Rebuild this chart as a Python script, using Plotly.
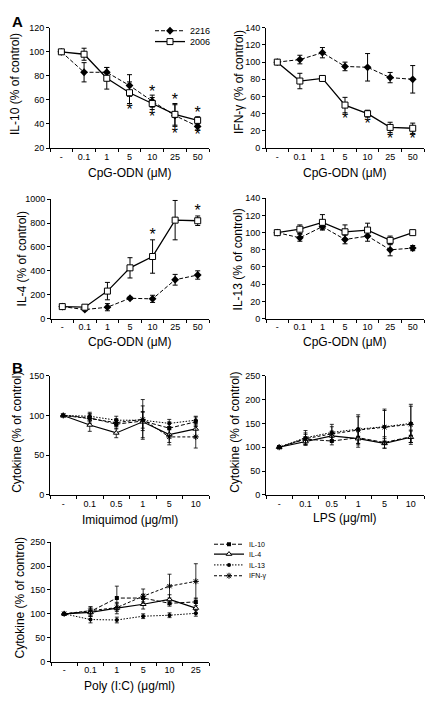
import plotly.graph_objects as go

W, H = 436, 701
OFF = 8  # browser body margin
FW, FH = W - OFF, H - OFF

# ---------------- data ----------------
cpg_labels = ["-", "0.1", "1", "5", "10", "25", "50"]
imiq_labels = ["-", "0.1", "0.5", "1", "5", "10"]
lps_labels = ["-", "0.1", "0.5", "1", "5", "10"]
polyic_labels = ["-", "0.1", "1", "5", "10", "25"]

# Panel A - IL-10
il10_2216 = [100, 83, 83, 72, 59, 47, 38]
il10_2216_err = [0, 8, 4, 9, 5, 9, 3]
il10_2006 = [100, 98, 78, 66, 57, 48, 43]
il10_2006_err = [0, 5, 9, 9, 5, 9, 3]
il10_star_x = [3, 4, 4, 5, 5, 6, 6]
il10_star_y = [51, 66, 45, 59, 31, 48, 30]

# Panel A - IFN-gamma
ifng_2216 = [100, 103, 111, 95, 94, 82, 80]
ifng_2216_err = [0, 5, 6, 5, 16, 6, 16]
ifng_2006 = [100, 78, 81, 50, 40, 24, 23]
ifng_2006_err = [0, 9, 3, 9, 4, 6, 6]
ifng_star_x = [3, 4, 5, 6]
ifng_star_y = [33, 27, 9, 9]

# Panel A - IL-4
il4_2216 = [100, 75, 95, 170, 165, 325, 365]
il4_2216_err = [0, 10, 30, 10, 30, 45, 35]
il4_2006 = [100, 95, 230, 425, 520, 825, 820]
il4_2006_err = [0, 10, 73, 85, 140, 165, 40]
il4_star_x = [4, 5, 6]
il4_star_y = [695, 1015, 890]

# Panel A - IL-13
il13_2216 = [100, 94, 107, 92, 96, 80, 82]
il13_2216_err = [0, 4, 3, 5, 6, 7, 3]
il13_2006 = [100, 104, 112, 101, 103, 91, 100]
il13_2006_err = [0, 5, 9, 8, 8, 5, 2]

# Panel B - Imiquimod
imiq_il10 = [100, 97, 89, 93, 84, 92]
imiq_il10_err = [0, 5, 6, 12, 8, 6]
imiq_il4 = [100, 88, 78, 92, 76, 83]
imiq_il4_err = [0, 8, 6, 20, 10, 10]
imiq_il13 = [100, 99, 94, 94, 90, 94]
imiq_il13_err = [0, 5, 5, 10, 5, 5]
imiq_ifng = [100, 96, 91, 95, 73, 73]
imiq_ifng_err = [0, 6, 5, 25, 10, 14]

# Panel B - LPS
lps_il10 = [100, 117, 113, 120, 110, 122]
lps_il10_err = [0, 10, 8, 15, 12, 12]
lps_il4 = [100, 112, 124, 118, 108, 121]
lps_il4_err = [0, 8, 10, 18, 10, 15]
lps_il13 = [100, 120, 131, 138, 143, 150]
lps_il13_err = [0, 15, 17, 30, 37, 40]
lps_ifng = [100, 118, 128, 136, 142, 148]
lps_ifng_err = [0, 12, 15, 28, 35, 38]

# Panel B - Poly (I:C)
pic_il10 = [100, 105, 133, 133, 122, 125]
pic_il10_err = [0, 10, 25, 8, 6, 8]
pic_il4 = [100, 103, 112, 120, 130, 112]
pic_il4_err = [0, 8, 12, 10, 10, 10]
pic_il13 = [100, 88, 87, 95, 97, 101]
pic_il13_err = [0, 7, 6, 5, 5, 6]
pic_ifng = [100, 106, 113, 137, 158, 168]
pic_ifng_err = [0, 8, 8, 15, 25, 37]

# ---------------- layout helpers ----------------
FONT = "Liberation Sans, Arial, sans-serif"


def px_x(p):
    return (p - OFF) / FW


def px_y(p):
    return 1 - (p - OFF) / FH


fig = go.Figure()

# (x0, x1, ytop, ybottom) in screen pixels, y range, dtick, labels
panels = [
    (50, 209, 23, 145, [20, 120], 20, cpg_labels),     # 1 IL-10
    (266, 424, 23, 145, [0, 140], 20, cpg_labels),     # 2 IFN-g
    (51, 209, 197, 318, [0, 1000], 200, cpg_labels),   # 3 IL-4
    (266, 424, 196, 318, [0, 140], 20, cpg_labels),    # 4 IL-13
    (50, 209, 376, 497, [0, 150], 50, imiq_labels),    # 5 Imiquimod
    (266, 424, 376, 497, [0, 250], 50, lps_labels),    # 6 LPS
    (51, 209, 545, 666, [0, 250], 50, polyic_labels),  # 7 Poly(I:C)
]

layout_axes = {}
for i, (x0, x1, yt, yb, yr, dt, labels) in enumerate(panels, start=1):
    n = len(labels)
    xa = "xaxis" if i == 1 else f"xaxis{i}"
    ya = "yaxis" if i == 1 else f"yaxis{i}"
    layout_axes[xa] = dict(
        domain=[px_x(x0), px_x(x1)],
        anchor="y" if i == 1 else f"y{i}",
        range=[-0.5, n - 0.5],
        tickmode="array",
        tickvals=list(range(n)),
        ticktext=labels,
        ticks="",
        minor=dict(tickmode="linear", tick0=-0.5, dtick=1, ticks="outside",
                   ticklen=3, tickwidth=1, tickcolor="black"),
        showline=True, linecolor="black", linewidth=1,
        showgrid=False, zeroline=False,
        tickfont=dict(family=FONT, size=9, color="black"),
        fixedrange=True,
    )
    layout_axes[ya] = dict(
        domain=[px_y(yb), px_y(yt)],
        anchor="x" if i == 1 else f"x{i}",
        range=yr,
        tickmode="linear", tick0=yr[0], dtick=dt,
        ticks="outside", ticklen=3, tickwidth=1, tickcolor="black",
        showline=True, linecolor="black", linewidth=1,
        showgrid=False, zeroline=False,
        tickfont=dict(family=FONT, size=9, color="black"),
        fixedrange=True,
    )


def ax(i):
    return ("x", "y") if i == 1 else (f"x{i}", f"y{i}")


def err(arr):
    return dict(type="data", array=arr, color="black", thickness=1, width=2.5, visible=True)


# ---- Panel A series ----
a_sets = [
    (1, il10_2216, il10_2216_err, il10_2006, il10_2006_err),
    (2, ifng_2216, ifng_2216_err, ifng_2006, ifng_2006_err),
    (3, il4_2216, il4_2216_err, il4_2006, il4_2006_err),
    (4, il13_2216, il13_2216_err, il13_2006, il13_2006_err),
]
for idx, y16, e16, y06, e06 in a_sets:
    xr, yr_ = ax(idx)
    xs = list(range(len(cpg_labels)))
    fig.add_trace(go.Scatter(
        x=xs, y=y16, error_y=err(e16), xaxis=xr, yaxis=yr_,
        mode="lines+markers", name="2216",
        line=dict(color="black", width=1, dash="4px,2px"),
        marker=dict(symbol="diamond", size=6, color="black"),
        showlegend=(idx == 1), legend="legend",
    ))
    fig.add_trace(go.Scatter(
        x=xs, y=y06, error_y=err(e06), xaxis=xr, yaxis=yr_,
        mode="lines+markers", name="2006",
        line=dict(color="black", width=1.3),
        marker=dict(symbol="square", size=6, color="white",
                    line=dict(color="black", width=1)),
        showlegend=(idx == 1), legend="legend2",
    ))

# stars
for idx, sx, sy in [(1, il10_star_x, il10_star_y), (2, ifng_star_x, ifng_star_y),
                    (3, il4_star_x, il4_star_y)]:
    xr, yr_ = ax(idx)
    fig.add_trace(go.Scatter(
        x=sx, y=sy, xaxis=xr, yaxis=yr_, mode="text", text=["*"] * len(sx),
        textfont=dict(family=FONT, size=16, color="black"),
        textposition="middle center", showlegend=False, cliponaxis=False,
        hoverinfo="skip",
    ))

# ---- Panel B series ----
b_styles = [
    ("IL-10", dict(color="black", width=1, dash="4px,2px"),
     dict(symbol="square", size=4, color="black")),
    ("IL-4", dict(color="black", width=1.2),
     dict(symbol="triangle-up", size=5, color="white", line=dict(color="black", width=1))),
    ("IL-13", dict(color="black", width=1, dash="1.5px,1.5px"),
     dict(symbol="circle", size=4, color="black")),
    ("IFN-γ", dict(color="black", width=1, dash="3px,2px"),
     dict(symbol="asterisk-open", size=5, color="black", line=dict(color="black", width=1))),
]
b_sets = [
    (5, imiq_labels, [imiq_il10, imiq_il4, imiq_il13, imiq_ifng],
     [imiq_il10_err, imiq_il4_err, imiq_il13_err, imiq_ifng_err]),
    (6, lps_labels, [lps_il10, lps_il4, lps_il13, lps_ifng],
     [lps_il10_err, lps_il4_err, lps_il13_err, lps_ifng_err]),
    (7, polyic_labels, [pic_il10, pic_il4, pic_il13, pic_ifng],
     [pic_il10_err, pic_il4_err, pic_il13_err, pic_ifng_err]),
]
legend_names = ["legend3", "legend4", "legend5", "legend6"]
for idx, labels, ys, es in b_sets:
    xr, yr_ = ax(idx)
    xs = list(range(len(labels)))
    for k, ((name, ln, mk), yv, ev) in enumerate(zip(b_styles, ys, es)):
        fig.add_trace(go.Scatter(
            x=xs, y=yv, error_y=dict(type="data", array=ev, color="black",
                                     thickness=0.8, width=2, visible=True),
            xaxis=xr, yaxis=yr_, mode="lines+markers", name=name,
            line=ln, marker=mk,
            showlegend=(idx == 5), legend=legend_names[k],
        ))

# ---- annotations (titles, panel letters) ----
ann = []


def add_text(text, x, y, size=12, angle=0, bold=False):
    ann.append(dict(
        text=f"<b>{text}</b>" if bold else text,
        x=px_x(x), y=px_y(y), xref="paper", yref="paper",
        xanchor="center", yanchor="middle", showarrow=False,
        textangle=angle, font=dict(family=FONT, size=size, color="black"),
    ))


add_text("A", 17, 17, size=15, bold=True)
add_text("B", 17, 368, size=15, bold=True)

add_text("IL-10 (% of control)", 15, 80, angle=-90)
add_text("IFN-γ (% of control)", 239, 78, angle=-90)
add_text("IL-4 (% of control)", 22, 258, angle=-90)
add_text("IL-13 (% of control)", 238, 258, angle=-90)
add_text("Cytokine (% of control)", 17, 434, angle=-90)
add_text("Cytokine (% of control)", 235, 434, angle=-90)
add_text("Cytokine (% of control)", 20, 602, angle=-90)

add_text("CpG-ODN (μM)", 130, 170)
add_text("CpG-ODN (μM)", 345, 170)
add_text("CpG-ODN (μM)", 130, 342)
add_text("CpG-ODN (μM)", 345, 342)
add_text("Imiquimod (μg/ml)", 130, 522)
add_text("LPS (μg/ml)", 345, 520)
add_text("Poly (I:C) (μg/ml)", 130, 691)


def leg(x, y, size):
    return dict(x=px_x(x), y=px_y(y), xanchor="left", yanchor="middle",
                bgcolor="rgba(0,0,0,0)", borderwidth=0,
                font=dict(family=FONT, size=size, color="black"),
                itemclick=False, itemdoubleclick=False)


fig.update_layout(
    width=FW, height=FH,
    margin=dict(l=0, r=0, t=0, b=0),
    paper_bgcolor="white", plot_bgcolor="white",
    font=dict(family=FONT, size=9, color="black"),
    annotations=ann,
    legend=leg(150, 26, 9),
    legend2=leg(150, 37, 9),
    legend3=leg(209, 547, 7),
    legend4=leg(209, 557, 7),
    legend5=leg(209, 568, 7),
    legend6=leg(209, 579, 7),
    **layout_axes,
)

fig.write_html("out.html")
